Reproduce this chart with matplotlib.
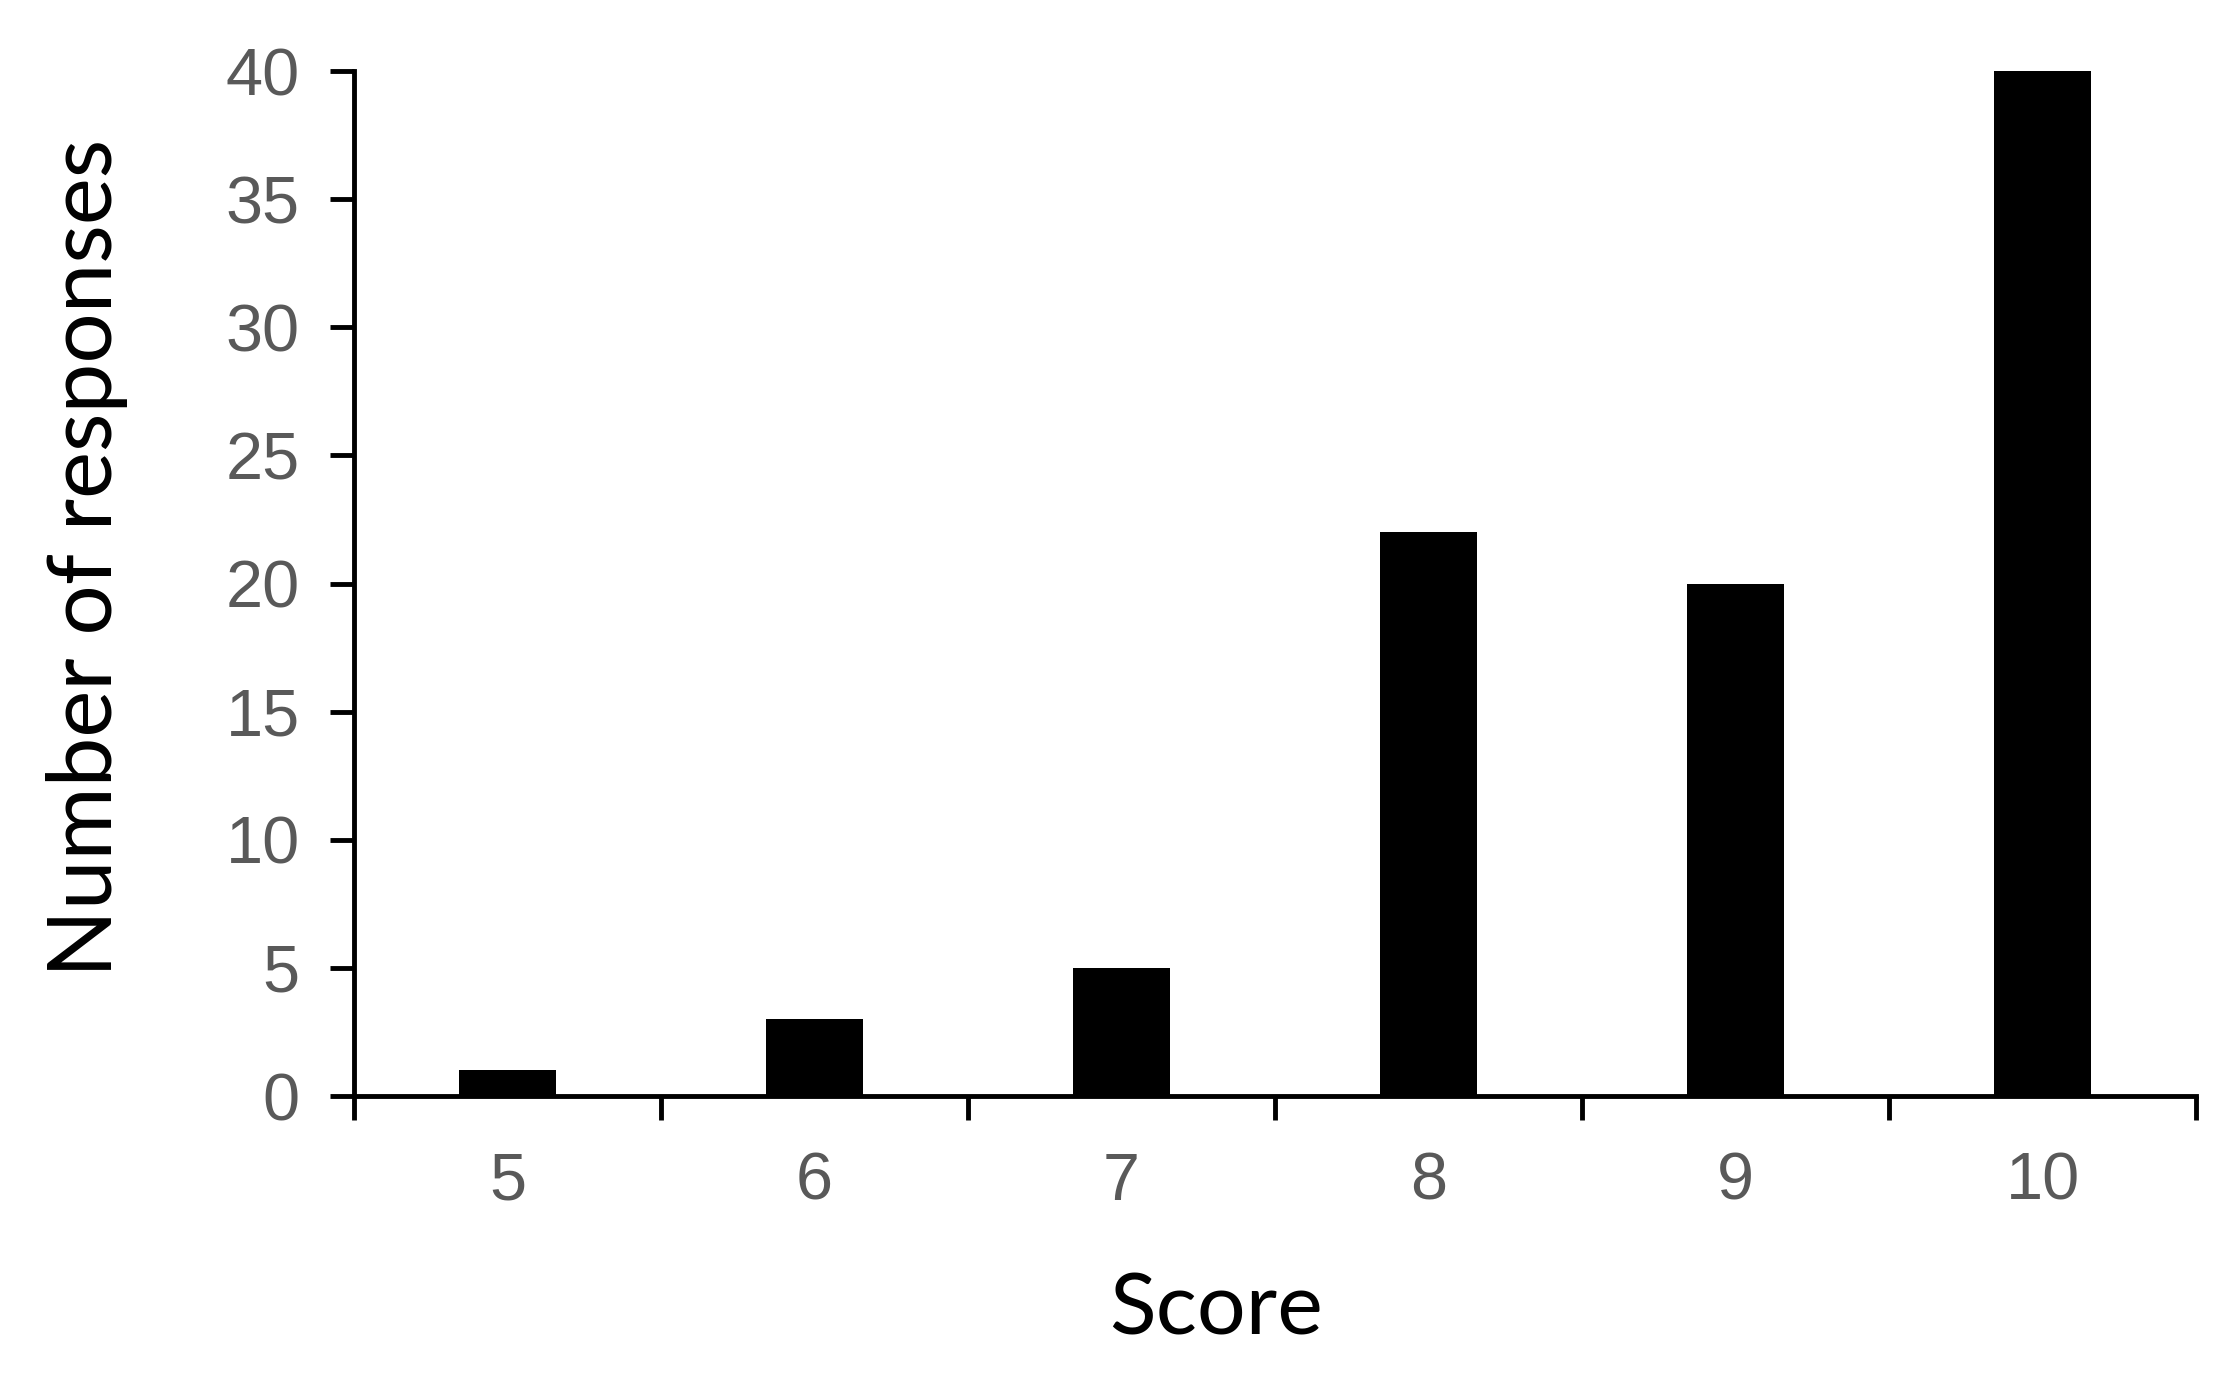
import numpy as np
import matplotlib.pyplot as plt
from matplotlib.ticker import FixedLocator

# Data
scores = [5, 6, 7, 8, 9, 10]
responses = [1, 3, 5, 22, 20, 40]

fig = plt.figure(figsize=(22.25, 13.74), dpi=100)
ax = fig.add_axes([0.1591, 0.2023, 0.9870 - 0.1591, 0.9483 - 0.2023])

x = np.arange(len(scores))
ax.bar(x, responses, width=0.316, color='black', zorder=3)

ax.set_xlim(-0.5, len(scores) - 0.5)
ax.set_ylim(0, 40)
ax.set_yticks(np.arange(0, 41, 5))

# category labels at centres, tick marks at the boundaries
ax.set_xticks(x)
ax.set_xticklabels([str(s) for s in scores])
ax.xaxis.set_minor_locator(FixedLocator(np.arange(-0.5, len(scores), 1.0)))
ax.tick_params(axis='x', which='major', length=0, pad=40)
ax.tick_params(axis='x', which='minor', length=17, width=3.5, direction='out')
ax.tick_params(axis='y', length=17, width=3.5, direction='out', pad=22)

for lab in ax.get_xticklabels() + ax.get_yticklabels():
    lab.set_fontfamily('Liberation Sans')
    lab.set_fontsize(48)
    lab.set_color('#595959')

for side in ['top', 'right']:
    ax.spines[side].set_visible(False)
for side in ['left', 'bottom']:
    ax.spines[side].set_linewidth(3.5)

ax.set_xlabel('Score', fontfamily='Lato', fontsize=62, va='center')
ax.xaxis.set_label_coords(0.468, -0.209)
ax.set_ylabel('Number of responses', fontfamily='Lato', fontsize=64,
              va='center', ha='center')
ax.yaxis.set_label_coords(-0.145, 0.525)

fig.savefig('out.png', dpi=100)
